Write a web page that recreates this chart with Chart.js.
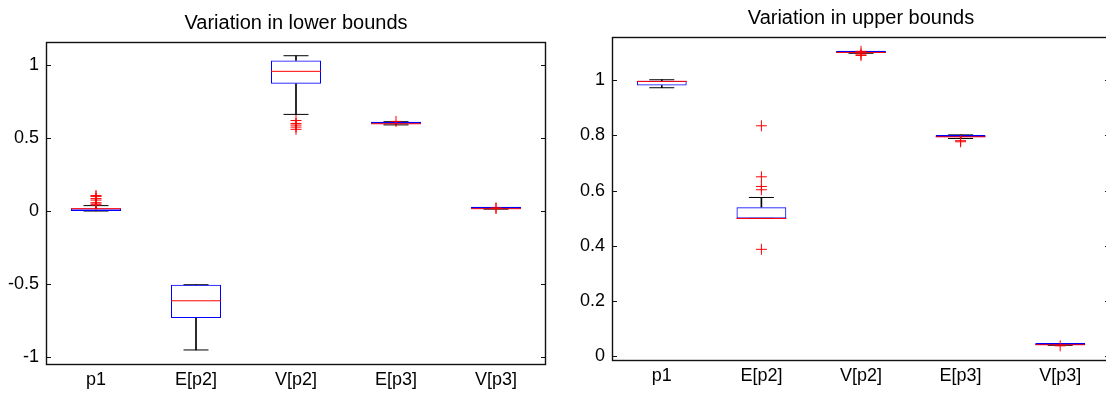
<!DOCTYPE html>
<html>
<head>
<meta charset="utf-8">
<title>Variation in bounds</title>
<script src="https://cdn.jsdelivr.net/npm/chart.js@4.4.1/dist/chart.umd.min.js"></script>
<style>
    html, body {
        margin: 0;
        padding: 0;
        background: #fff;
        width: 1106px;
        height: 393px;
        overflow: hidden;
        position: relative;
    }
    canvas {
        position: absolute;
        top: 0;
    }
    #lower-chart { left: 0; }
    #upper-chart { left: 560px; }
</style>
</head>
<body>
<canvas id="lower-chart" width="592" height="393"></canvas>
<canvas id="upper-chart" width="602" height="393"></canvas>
<script>
// Categories shared by both plots
const categories = ['p1', 'E[p2]', 'V[p2]', 'E[p3]', 'V[p3]'];

// Lower bounds: whisker ends, quartiles, medians, outliers
const lowerMin = [0.0, -0.952, 0.662, 0.590, 0.013];
const lowerQ1 = [0.0, -0.733, 0.872, 0.598, 0.015];
const lowerMedian = [0.016, -0.615, 0.957, 0.598, 0.016];
const lowerQ3 = [0.017, -0.505, 1.032, 0.602, 0.017];
const lowerMax = [0.037, -0.505, 1.064, 0.612, 0.019];
const lowerOutliers = [
    [0.042, 0.048, 0.057, 0.075, 0.085, 0.1, 0.106],
    [],
    [0.62, 0.6, 0.589, 0.575, 0.56],
    [0.614],
    [0.018, 0.021]
];
const lowerTicks = [-1, -0.5, 0, 0.5, 1];

// Upper bounds
const upperMin = [0.973, 0.499, 1.098, 0.789, 0.039];
const upperQ1 = [0.981, 0.499, 1.1, 0.794, 0.040];
const upperMedian = [0.996, 0.499, 1.101, 0.795, 0.041];
const upperQ3 = [0.998, 0.540, 1.102, 0.800, 0.042];
const upperMax = [1.002, 0.575, 1.103, 0.802, 0.043];
const upperOutliers = [
    [],
    [0.835, 0.65, 0.615, 0.603, 0.387],
    [1.09, 1.095, 1.105],
    [0.777, 0.781],
    [0.037]
];
const upperTicks = [0, 0.2, 0.4, 0.6, 0.8, 1];

const FONT = '"Liberation Sans", Arial, Helvetica, sans-serif';

/**
 * Frame around the axes with inward tick marks on both sides
 */
const framePlugin = {
    id: 'frame',
    afterDatasetsDraw(chart) {
        const { ctx, chartArea: a, scales } = chart;
        const y = scales.y;
        ctx.save();
        ctx.strokeStyle = '#111';
        ctx.lineWidth = 1.4;
        ctx.strokeRect(a.left + 0.5, a.top + 0.5, a.right - a.left - 1, a.bottom - a.top - 1);
        ctx.lineWidth = 1;
        ctx.beginPath();
        y.ticks.forEach(t => {
            const py = Math.round(y.getPixelForValue(t.value)) + 0.5;
            ctx.moveTo(a.left, py);
            ctx.lineTo(a.left + 5, py);
            ctx.moveTo(a.right - 5, py);
            ctx.lineTo(a.right, py);
        });
        ctx.stroke();
        ctx.restore();
    }
};

/**
 * Build the box plot datasets from the summary arrays
 */
function boxDatasets(minV, q1, median, q3, maxV, outliers) {
    const points = (values) => values.map((v, i) => ({ x: categories[i], y: v }));
    const outlierPoints = outliers.flatMap((list, i) => list.map(v => ({ x: categories[i], y: v })));

    return [
        {
            // lower whisker
            type: 'bar',
            data: categories.map((c, i) => [minV[i], q1[i]]),
            backgroundColor: '#000',
            barThickness: 1,
            grouped: false,
            order: 6
        },
        {
            // upper whisker
            type: 'bar',
            data: categories.map((c, i) => [q3[i], maxV[i]]),
            backgroundColor: '#000',
            barThickness: 1,
            grouped: false,
            order: 6
        },
        {
            // whisker caps
            type: 'line',
            data: points(minV).concat(points(maxV)),
            showLine: false,
            pointStyle: 'line',
            pointRadius: 12.5,
            pointBorderColor: '#000',
            pointBorderWidth: 1,
            order: 4
        },
        {
            // boxes
            type: 'bar',
            data: categories.map((c, i) => [q1[i], q3[i]]),
            backgroundColor: 'rgba(0,0,0,0)',
            borderColor: '#0000ff',
            borderWidth: 1,
            borderSkipped: false,
            minBarLength: 2,
            barPercentage: 0.5,
            categoryPercentage: 1,
            grouped: false,
            order: 3
        },
        {
            // medians
            type: 'line',
            data: points(median),
            showLine: false,
            pointStyle: 'line',
            pointRadius: 25,
            pointBorderColor: '#ff0000',
            pointBorderWidth: 1,
            order: 2
        },
        {
            // outliers
            type: 'line',
            data: outlierPoints,
            showLine: false,
            pointStyle: 'cross',
            pointRadius: 5.5,
            pointBorderColor: '#ff0000',
            pointBorderWidth: 1,
            order: 1
        }
    ];
}

/**
 * Create one box plot panel
 */
function makeBoxChart(canvasId, opts) {
    const ctx = document.getElementById(canvasId).getContext('2d');
    return new Chart(ctx, {
        type: 'bar',
        data: {
            labels: categories,
            datasets: opts.datasets
        },
        options: {
            responsive: false,
            animation: false,
            events: [],
            plugins: {
                legend: { display: false },
                tooltip: { enabled: false },
                title: {
                    display: true,
                    text: opts.title,
                    color: '#000',
                    font: { family: FONT, size: 20, weight: 'normal' },
                    padding: opts.titlePadding
                }
            },
            scales: {
                x: {
                    type: 'category',
                    offset: true,
                    grid: { display: false, drawTicks: false },
                    border: { display: false },
                    ticks: {
                        color: '#000',
                        font: { family: FONT, size: 18 },
                        padding: 4,
                        autoSkip: false,
                        maxRotation: 0
                    },
                    afterFit: scale => { scale.height = opts.xHeight; }
                },
                y: {
                    type: 'linear',
                    min: opts.min,
                    max: opts.max,
                    grid: { display: false, drawTicks: false },
                    border: { display: false },
                    ticks: {
                        color: '#000',
                        font: { family: FONT, size: 18 },
                        padding: 7,
                        callback: v => String(v)
                    },
                    afterBuildTicks: scale => {
                        scale.ticks = opts.ticks.map(v => ({ value: v }));
                    },
                    afterFit: scale => { scale.width = opts.yWidth; }
                },
                // empty axis on the right, keeps the plot area centred under the title
                yRight: {
                    type: 'linear',
                    position: 'right',
                    min: opts.min,
                    max: opts.max,
                    grid: { display: false, drawTicks: false },
                    border: { display: false },
                    ticks: { display: false },
                    afterFit: scale => { scale.width = opts.yWidth; }
                }
            }
        },
        plugins: [framePlugin]
    });
}

makeBoxChart('lower-chart', {
    title: 'Variation in lower bounds',
    datasets: boxDatasets(lowerMin, lowerQ1, lowerMedian, lowerQ3, lowerMax, lowerOutliers),
    ticks: lowerTicks,
    min: -1.055,
    max: 1.158,
    yWidth: 46,
    xHeight: 28,
    titlePadding: { top: 11.5, bottom: 6.5 }
});

makeBoxChart('upper-chart', {
    title: 'Variation in upper bounds',
    datasets: boxDatasets(upperMin, upperQ1, upperMedian, upperQ3, upperMax, upperOutliers),
    ticks: upperTicks,
    min: -0.018,
    max: 1.157,
    yWidth: 52,
    xHeight: 32,
    titlePadding: { top: 6, bottom: 7 }
});
</script>
</body>
</html>
